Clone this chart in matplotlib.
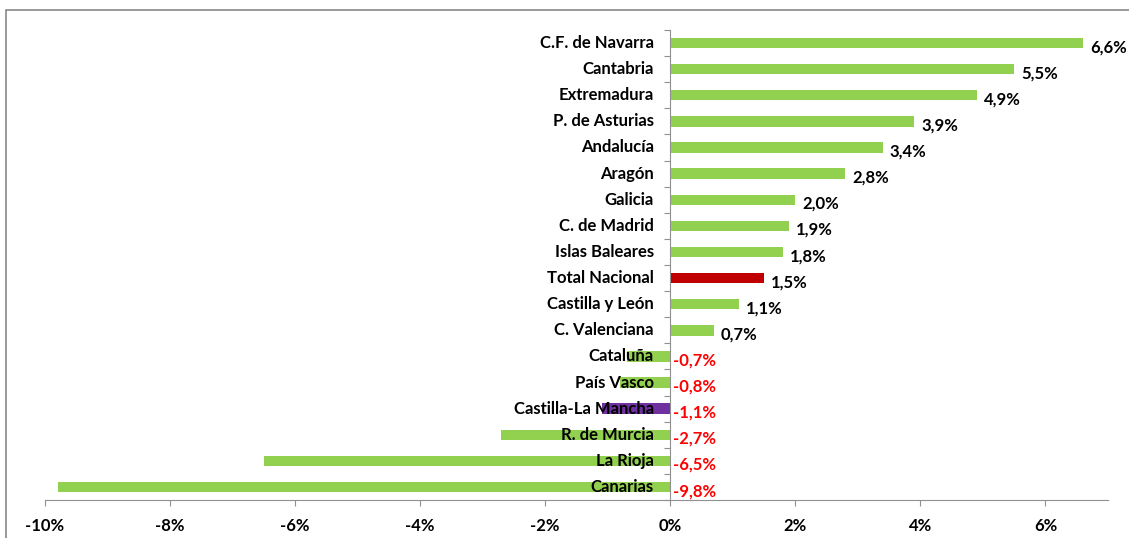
import numpy as np
import matplotlib.pyplot as plt
from matplotlib.patches import Rectangle

# datos (de arriba a abajo)
regiones = ['C.F. de Navarra', 'Cantabria', 'Extremadura', 'P. de Asturias', 'Andalucía',
            'Aragón', 'Galicia', 'C. de Madrid', 'Islas Baleares', 'Total Nacional',
            'Castilla y León', 'C. Valenciana', 'Cataluña', 'País Vasco',
            'Castilla-La Mancha', 'R. de Murcia', 'La Rioja', 'Canarias']
valores = [6.6, 5.5, 4.9, 3.9, 3.4, 2.8, 2.0, 1.9, 1.8, 1.5, 1.1, 0.7,
           -0.7, -0.8, -1.1, -2.7, -6.5, -9.8]
ticks_x = [-10, -8, -6, -4, -2, 0, 2, 4, 6]

VERDE = '#92D050'
colores = []
for r in regiones:
    if r == 'Total Nacional':
        colores.append('#C00000')
    elif r == 'Castilla-La Mancha':
        colores.append('#7030A0')
    else:
        colores.append(VERDE)

plt.rcParams['font.family'] = ['Lato', 'DejaVu Sans']
plt.rcParams['font.weight'] = 'bold'
FS = 12

fig = plt.figure(figsize=(11.29, 5.38), dpi=100)
ax = fig.add_axes([45 / 1129, 1 - 500 / 538, (1108 - 45) / 1129, 470 / 538])

n = len(regiones)
y = np.arange(n)
ax.barh(y, valores, height=0.4, color=colores, zorder=2)
ax.set_ylim(n - 0.5, -0.5)
ax.set_xlim(-10, 7)

# etiquetas de categoria junto al eje 0
for i, r in enumerate(regiones):
    ax.annotate(r, xy=(0, i), xytext=(-12, 0), textcoords='offset points',
                ha='right', va='center', fontsize=FS, fontweight='bold',
                color='black', zorder=3)

# etiquetas de valor
for i, v in enumerate(valores):
    txt = ('%.1f%%' % v).replace('.', ',')
    if v >= 0:
        ax.annotate(txt, xy=(v, i), xytext=(5, -3), textcoords='offset points',
                    ha='left', va='center', fontsize=FS, fontweight='bold', color='black')
    else:
        ax.annotate(txt, xy=(0, i), xytext=(2, -3), textcoords='offset points',
                    ha='left', va='center', fontsize=FS, fontweight='bold', color='#FF0000')

ax.set_xticks(ticks_x)
ax.set_xticklabels(['%d%%' % t for t in ticks_x], fontsize=FS, fontweight='bold')
ax.set_yticks(np.arange(n + 1) - 0.5)
ax.set_yticklabels([])

for s in ['top', 'right']:
    ax.spines[s].set_visible(False)
ax.spines['bottom'].set_color('#909090')
ax.tick_params(axis='x', direction='out', length=4, color='#909090', pad=9)
ax.tick_params(axis='y', direction='out', length=4, color='#909090')
# eje vertical en x=0
ax.spines['left'].set_position(('data', 0))
ax.spines['left'].set_color('#909090')

# marco exterior
fig.patches.append(Rectangle((6 / 1129, -0.1), 1.2, 1 - 10 / 538 + 0.1,
                             transform=fig.transFigure, fill=False,
                             edgecolor='#888888', lw=1.2))

plt.savefig('out.png', dpi=100)
